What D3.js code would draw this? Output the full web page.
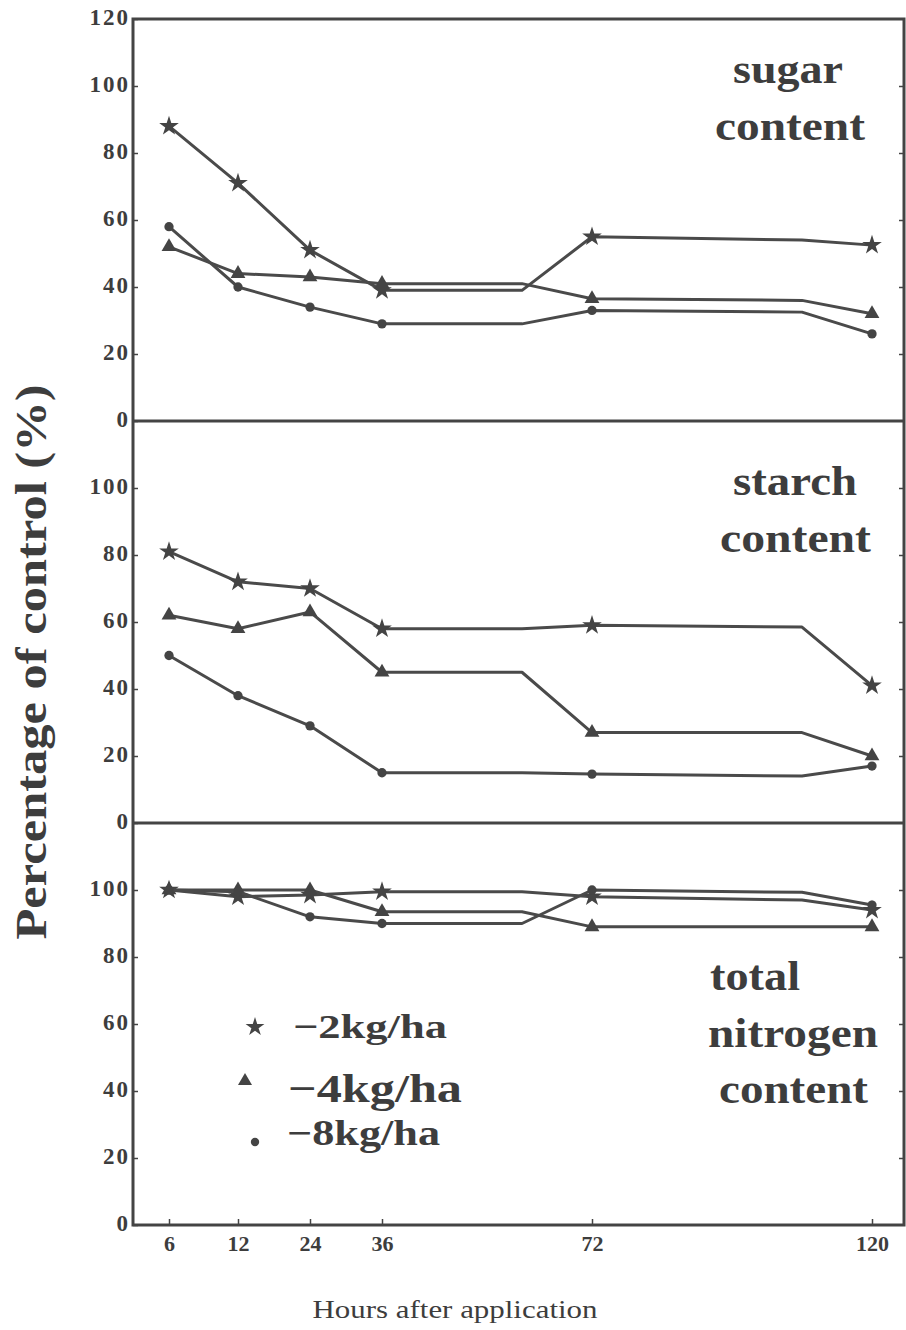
<!DOCTYPE html>
<html>
<head>
<meta charset="utf-8">
<script src="https://cdn.jsdelivr.net/npm/d3@7"></script>
<style>
  body { margin: 0; background: #fff; }
  svg { display: block; }
  text { font-family: "Liberation Serif", "Times New Roman", serif; fill: #3d3d3d; }
</style>
</head>
<body>
<svg id="chart"></svg>
<script>
// Data *************************************************************************
const hours = [6, 12, 24, 36, 72, 120];                 // sampling times (markers)
const lineHours = [6, 12, 24, 36, 60, 72, 108, 120];    // line vertices incl. the two bends
const doses = ["−2kg/ha", "−4kg/ha", "−8kg/ha"];
const yTicksTop = [0, 20, 40, 60, 80, 100, 120];
const yTicks = [0, 20, 40, 60, 80, 100];

// sugar content (% of control), one value per lineHours entry
const sugar2 = [88, 71, 51, 39, 39, 55, 54, 52.5];
const sugar4 = [52, 44, 43, 41, 41, 36.5, 36, 32];
const sugar8 = [58, 40, 34, 29, 29, 33, 32.5, 26];

// starch content
const starch2 = [81, 72, 70, 58, 58, 59, 58.5, 41];
const starch4 = [62, 58, 63, 45, 45, 27, 27, 20];
const starch8 = [50, 38, 29, 15, 15, 14.6, 14, 17];

// total nitrogen content
const nitro2 = [100, 98, 98.5, 99.5, 99.5, 98, 97, 94];
const nitro4 = [100, 100, 100, 93.5, 93.5, 89, 89, 89];
const nitro8 = [100, 99.5, 92, 90, 90, 100, 99.3, 95.5];

const panelTitles = [["sugar", "content"], ["starch", "content"], ["total", "nitrogen", "content"]];
/********************************************************************************/

const width = 906, height = 1330;
const left = 133, right = 904;
const panelTops = [19, 421, 823], panelH = 402;
const ink = "#444";

const svg = d3.select("#chart").attr("width", width).attr("height", height);

// Hand-drawn time axis is not linear at the start, so map each tick to its own spot
const x = d3.scaleLinear().domain(hours).range([169, 238, 310, 382, 592, 872]);

const symbols = [d3.symbolStar, d3.symbolTriangle, d3.symbolCircle];
const symbolSizes = [120, 95, 68];

const panels = [
    { series: [sugar2, sugar4, sugar8], ticks: yTicksTop },
    { series: [starch2, starch4, starch8], ticks: yTicks },
    { series: [nitro2, nitro4, nitro8], ticks: yTicks }
];

// title placement (start x, baseline y, length) for each line of each panel
const titleSpots = [
    [[733, 83, 110], [715, 140, 150]],
    [[733, 495, 124], [720, 552, 151]],
    [[710, 990, 90], [708, 1047, 170], [719, 1103, 149]]
];

panels.forEach((p, i) => {
    const top = panelTops[i];
    const y = d3.scaleLinear().domain([0, 120]).range([top + panelH, top]);
    const g = svg.append("g");

    // left axis, ticks pointing inward
    const axL = g.append("g")
        .attr("transform", `translate(${left},0)`)
        .call(d3.axisLeft(y).tickValues(p.ticks).tickSize(-5).tickPadding(3));
    axL.select(".domain").remove();
    axL.selectAll("line").attr("stroke", ink).attr("stroke-width", 1.5);
    axL.selectAll("text")
        .attr("dy", "0.22em")
        .style("font-size", "23px").style("font-weight", "bold")
        .style("letter-spacing", "2px").style("fill", "#3d3d3d");

    // right side mirror ticks
    const axR = g.append("g")
        .attr("transform", `translate(${right},0)`)
        .call(d3.axisRight(y).tickValues(yTicks.filter(t => t > 0)).tickSize(-5).tickFormat(""));
    axR.select(".domain").remove();
    axR.selectAll("line").attr("stroke", ink).attr("stroke-width", 1.5);

    const line = d3.line()
        .x((d, k) => x(lineHours[k]))
        .y(d => y(d));

    p.series.forEach((vals, s) => {
        g.append("path")
            .attr("d", line(vals))
            .attr("fill", "none")
            .attr("stroke", "#4a4a4a")
            .attr("stroke-width", 3)
            .attr("stroke-linejoin", "round");

        // markers only at the sampled hours
        const pts = vals.map((v, k) => ({ h: lineHours[k], v })).filter(d => hours.includes(d.h));
        g.selectAll(null)
            .data(pts)
            .enter().append("path")
            .attr("transform", d => `translate(${x(d.h)},${y(d.v)})`)
            .attr("d", d3.symbol().type(symbols[s]).size(symbolSizes[s]))
            .attr("fill", ink);
    });

    // panel title
    panelTitles[i].forEach((t, k) => {
        const [tx, ty, tl] = titleSpots[i][k];
        g.append("text")
            .attr("x", tx).attr("y", ty)
            .attr("textLength", tl).attr("lengthAdjust", "spacingAndGlyphs")
            .style("font-size", "43px").style("font-weight", "bold")
            .text(t);
    });
});

// frame and panel dividers
svg.append("rect")
    .attr("x", left).attr("y", panelTops[0])
    .attr("width", right - left).attr("height", panelH * 3)
    .attr("fill", "none").attr("stroke", ink).attr("stroke-width", 3);
[panelTops[1], panelTops[2]].forEach(t => {
    svg.append("line")
        .attr("x1", left).attr("x2", right).attr("y1", t).attr("y2", t)
        .attr("stroke", ink).attr("stroke-width", 3);
});

// bottom time axis
const bottom = panelTops[2] + panelH;
const axB = svg.append("g")
    .attr("transform", `translate(0,${bottom})`)
    .call(d3.axisBottom(x).tickValues(hours).tickSize(-6).tickPadding(10));
axB.select(".domain").remove();
axB.selectAll("line").attr("stroke", ink).attr("stroke-width", 1.5);
axB.selectAll("text")
    .style("font-size", "22px").style("font-weight", "bold").style("fill", "#3d3d3d");

// legend
const legendSpots = [
    { sx: 255, sy: 1027, tx: 293, ty: 1038, len: 154, fs: 34, size: 110 },
    { sx: 245, sy: 1081, tx: 288, ty: 1102, len: 174, fs: 40, size: 85 },
    { sx: 255, sy: 1142, tx: 287, ty: 1145, len: 153, fs: 35, size: 55 }
];
doses.forEach((d, i) => {
    const L = legendSpots[i];
    svg.append("path")
        .attr("transform", `translate(${L.sx},${L.sy})`)
        .attr("d", d3.symbol().type(symbols[i]).size(L.size))
        .attr("fill", ink);
    svg.append("text")
        .attr("x", L.tx).attr("y", L.ty)
        .attr("textLength", L.len).attr("lengthAdjust", "spacingAndGlyphs")
        .style("font-size", L.fs + "px").style("font-weight", "bold")
        .text(d);
});

// axis titles
svg.append("text")
    .attr("transform", "translate(46,662) rotate(-90)")
    .attr("text-anchor", "middle")
    .attr("textLength", 555).attr("lengthAdjust", "spacingAndGlyphs")
    .style("font-size", "44px").style("font-weight", "bold")
    .text("Percentage of control (%)");

svg.append("text")
    .attr("x", 455).attr("y", 1318)
    .attr("text-anchor", "middle")
    .attr("textLength", 285).attr("lengthAdjust", "spacingAndGlyphs")
    .style("font-size", "25px")
    .text("Hours after application");
</script>
</body>
</html>
